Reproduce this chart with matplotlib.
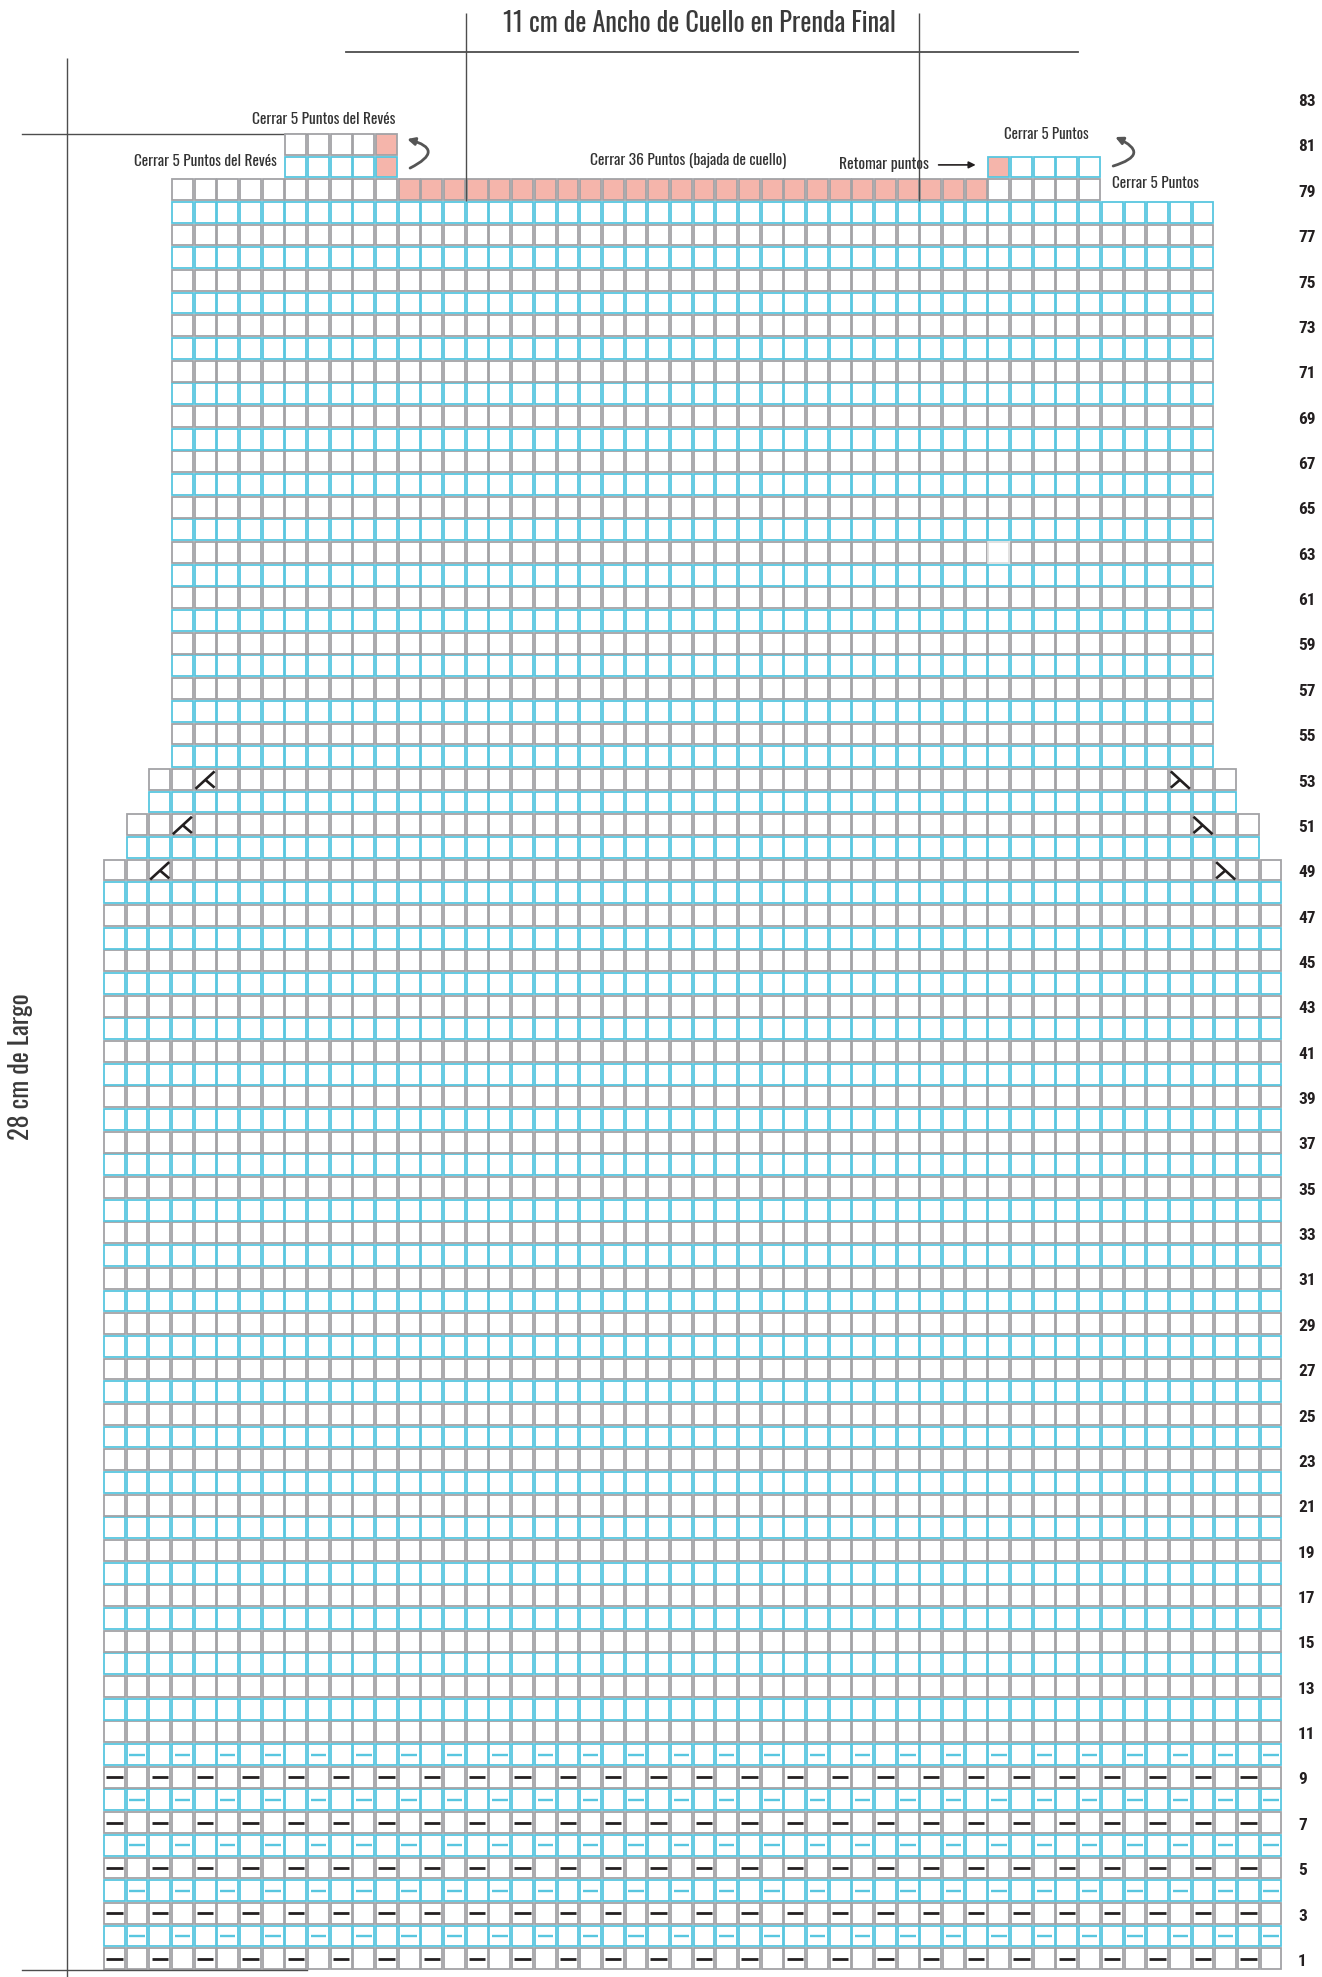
import matplotlib
matplotlib.use("Agg")
import matplotlib.pyplot as plt
from matplotlib.patches import Rectangle, FancyArrowPatch
from matplotlib.collections import LineCollection
from matplotlib import font_manager

# ---------------- data ----------------
# body rows: (first_row, last_row, first_col, last_col)
BODY_SPANS = [(1, 49, 0, 51), (50, 51, 1, 50), (52, 53, 2, 49), (54, 78, 3, 48)]
# neck / shoulder rows: (row, first_col, last_col)
SHOULDER_SPANS = [(79, 3, 43), (80, 8, 12), (80, 39, 43), (81, 8, 12)]
# bound-off (pink) stitches: (row, first_col, last_col)
BOUND_OFF = [(79, 13, 38), (80, 12, 12), (80, 39, 39), (81, 12, 12)]
RIB_ROWS = [1, 2, 3, 4, 5, 6, 7, 8, 9, 10]
K2TOG = [(49, 2), (51, 3), (53, 4)]
SSK = [(49, 49), (51, 48), (53, 47)]
FAINT_CELLS = [(63, 39)]
ROW_NUMBERS = list(range(1, 84, 2))

TITLE = "11 cm de Ancho de Cuello en Prenda Final"
SIDE_LABEL = "28 cm de Largo"
NOTES = ["Cerrar 5 Puntos del Revés", "Cerrar 5 Puntos del Revés",
         "Cerrar 36 Puntos (bajada de cuello)", "Retomar puntos",
         "Cerrar 5 Puntos", "Cerrar 5 Puntos"]

# ---------------- style ----------------
GRAY = "#a2a2a5"
CYAN = "#58c6df"
PINK = "#f5b5ab"
INK = "#231f20"
LINE = "#4d4d4d"
FAINT = "#dedede"

ttf = font_manager.fontManager.ttflist
names = {f.name for f in ttf}
FONT = "DejaVu Sans"
for cand in ["Oswald", "Roboto Condensed", "Barlow Condensed", "Pathway Gothic One",
             "Liberation Sans Narrow"]:
    if cand in names:
        FONT = cand
        break

NUM_FONT, NUM_WEIGHT = FONT, "bold"
for cand in ["Oswald", "Roboto Condensed", "Barlow Condensed"]:
    if any(f.name == cand and isinstance(f.weight, int) and f.weight >= 600 for f in ttf):
        NUM_FONT = cand
        break
else:
    for cand in ["Fjalla One", "Bebas Neue", "Oswald"]:
        if cand in names:
            NUM_FONT = cand
            NUM_WEIGHT = "normal"
            break

plt.rcParams["font.family"] = [FONT, "DejaVu Sans"]

W, H, DPI = 1322, 1977, 100
CELL = 22.68          # px per stitch
X0, Y0 = 103.0, 7.0   # px of grid origin (left, bottom)

fig = plt.figure(figsize=(W / DPI, H / DPI), dpi=DPI)
ax = fig.add_axes([0, 0, 1, 1])
ax.set_xlim(-X0 / CELL, (W - X0) / CELL)
ax.set_ylim(-Y0 / CELL, (H - Y0) / CELL)
ax.axis("off")
renderer = fig.canvas.get_renderer()


def fitted_size(s, width_px, weight="normal", family=None):
    kw = {"family": family} if family else {}
    t = fig.text(0, 0, s, fontsize=20, fontweight=weight, **kw)
    w = t.get_window_extent(renderer).width
    t.remove()
    return 20 * width_px / w


pink_set = set()
for r, a, b in BOUND_OFF:
    for c in range(a, b + 1):
        pink_set.add((r, c))
faint_set = set(FAINT_CELLS)

cells = []
for r0, r1, a, b in BODY_SPANS:
    for r in range(r0, r1 + 1):
        for c in range(a, b + 1):
            cells.append((r, c))
for r, a, b in SHOULDER_SPANS:
    for c in range(a, b + 1):
        cells.append((r, c))

lw_px = 1.8
inset = (lw_px / 2) / CELL
for r, c in cells:
    edge = GRAY if r % 2 == 1 else CYAN
    if (r, c) in faint_set:
        edge = FAINT
    face = PINK if (r, c) in pink_set else "white"
    ax.add_patch(Rectangle((c + inset, r - 1 + inset), 1 - 2 * inset, 1 - 2 * inset,
                           facecolor=face, edgecolor=edge, linewidth=lw_px * 72 / DPI,
                           zorder=2))

# rib dashes
first_col, last_col = BODY_SPANS[0][2], BODY_SPANS[0][3]
black_d, cyan_d = [], []
for r in RIB_ROWS:
    for c in range(first_col, last_col + 1):
        if r % 2 == 1 and c % 2 == 0:
            black_d.append([(c + 0.14, r - 0.5), (c + 0.86, r - 0.5)])
        elif r % 2 == 0 and c % 2 == 1:
            cyan_d.append([(c + 0.16, r - 0.5), (c + 0.84, r - 0.5)])
ax.add_collection(LineCollection(black_d, colors=INK, linewidths=2.0, zorder=3))
ax.add_collection(LineCollection(cyan_d, colors=CYAN, linewidths=1.7, zorder=3))

# decrease symbols
sym = []
for r, c in K2TOG:
    y = r - 1
    sym.append([(c + 0.08, y + 0.08), (c + 0.92, y + 0.85)])
    sym.append([(c + 0.5, y + 0.49), (c + 0.92, y + 0.13)])
for r, c in SSK:
    y = r - 1
    sym.append([(c + 0.08, y + 0.85), (c + 0.92, y + 0.08)])
    sym.append([(c + 0.5, y + 0.49), (c + 0.08, y + 0.13)])
ax.add_collection(LineCollection(sym, colors=INK, linewidths=1.9, zorder=3,
                                 capstyle="butt"))

# row numbers
num_size = fitted_size("83", 17.5, NUM_WEIGHT, [NUM_FONT, "DejaVu Sans"])
for n in ROW_NUMBERS:
    ax.text(52.69, n - 0.62, str(n), ha="left", va="center", fontsize=num_size,
            fontweight=NUM_WEIGHT, family=[NUM_FONT, "DejaVu Sans"], color=INK,
            zorder=4)

# dimension lines
kw = dict(color=LINE, linewidth=1.0, zorder=5, solid_capstyle="butt")
ax.plot([16, 16], [78, 86.3], **kw)
ax.plot([36, 36], [78, 86.3], **kw)
ax.plot([10.7, 43.0], [84.57, 84.57], color=LINE, linewidth=1.3, zorder=5)
ax.plot([-1.59, -1.59], [-0.5, 84.3], **kw)
ax.plot([-3.57, 9.0], [80.95, 80.95], color=LINE, linewidth=1.0, zorder=1)
ax.plot([-3.57, 9.0], [0.0, 0.0], color=LINE, linewidth=1.0, zorder=4)

ax.text(26.3, 85.82, TITLE, ha="center", va="center",
        fontsize=fitted_size(TITLE, 394, "light"), fontweight="light",
        color="#3a3a3a", zorder=5)
ax.text(-3.62, 39.81, SIDE_LABEL, ha="center", va="center", rotation=90,
        fontsize=fitted_size(SIDE_LABEL, 147, "light"), fontweight="light",
        color="#3a3a3a", zorder=5)

nk = dict(color="#333333", zorder=5, fontweight="normal")
notes_geom = [  # x, y, ha, width_px
    (12.9, 81.57, "right", 144),
    (7.67, 79.72, "right", 143),
    (25.8, 79.76, "center", 198),
    (36.4, 79.59, "right", 90),
    (41.6, 80.91, "center", 85),
    (44.5, 78.79, "left", 87),
]
for s, (x, y, ha, wpx) in zip(NOTES, notes_geom):
    ax.text(x, y, s, ha=ha, va="center", fontsize=fitted_size(s, wpx), **nk)

# arrows
ax.add_patch(FancyArrowPatch((36.72, 79.59), (38.6, 79.59), arrowstyle="-|>",
                             mutation_scale=10, color=INK, linewidth=1.2, zorder=5))
for tail, head in [((13.54, 79.45), (13.41, 80.73)), ((44.54, 79.54), (44.63, 80.82))]:
    ax.add_patch(FancyArrowPatch(tail, head, connectionstyle="arc3,rad=1.3",
                                 arrowstyle="-|>", mutation_scale=11, color="#555555",
                                 linewidth=2.0, zorder=5, shrinkA=0, shrinkB=0))

fig.savefig("out.png", dpi=DPI)
